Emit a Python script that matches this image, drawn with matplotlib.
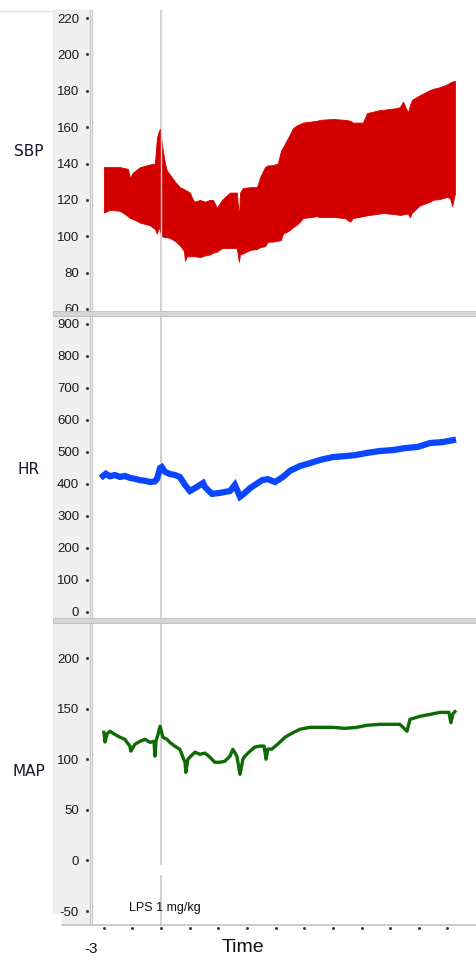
"""Haemodynamic recording after LPS: SBP, HR and MAP stacked traces."""

import matplotlib

matplotlib.use("Agg")
import matplotlib.pyplot as plt
import matplotlib.transforms as mtransforms
from matplotlib.lines import Line2D
from matplotlib.patches import Rectangle


# time in hours relative to the LPS injection (0)
sbp_time = [-1.99, -1.78, -1.43, -1.15, -1.08, -0.98, -0.73, -0.38, -0.21, -0.14,
            -0.07, -0.03, 0.03, 0.14, 0.21, 0.31, 0.49, 0.66, 0.80, 0.84,
            0.91, 1.01, 1.12, 1.19, 1.36, 1.54, 1.71, 1.82, 1.95, 2.13,
            2.41, 2.65, 2.72, 2.76, 2.86, 3.11, 3.35, 3.46, 3.63, 3.73,
            3.87, 4.08, 4.19, 4.26, 4.40, 4.50, 4.61, 4.75, 4.85, 4.96,
            5.20, 5.45, 5.55, 6.00, 6.42, 6.60, 6.70, 7.05, 7.19, 7.64,
            7.75, 8.24, 8.34, 8.45, 8.62, 8.69, 8.76, 9.04, 9.39, 9.49,
            9.74, 9.98, 10.09, 10.16, 10.26]
sbp_high = [138, 138, 138, 137, 132, 135, 138, 139.5, 140, 154,
            158, 159, 151, 140, 136, 134, 130, 127, 126, 125.5,
            125, 124, 120, 119, 120, 119, 120, 120, 115.5, 120,
            124, 124, 110, 124, 126.5, 127, 127, 132.5, 138, 139,
            139, 140, 147, 149, 153, 156, 159.5, 161, 161.7, 162.5,
            163, 163.5, 164, 164.5, 164, 163.5, 162.5, 162.5, 167.7, 169.4,
            169.5, 170.5, 171, 174, 168, 172, 175, 177.6, 180.4, 181,
            182, 183.5, 184.5, 185, 185.4]
sbp_low = [113, 114.5, 114, 111, 110, 109.5, 107.5, 106, 104, 101.5,
           105, 103, 100, 99.5, 99.5, 99, 97.5, 95, 92, 86.5,
           89, 89, 89, 89, 88.5, 89.5, 90, 91, 91.5, 93.5,
           93.5, 93.5, 86, 90, 90.5, 92.5, 93, 94, 94.5, 97,
           97, 97.5, 98, 101.5, 102.5, 103.5, 105, 106.5, 108, 110,
           110.5, 111, 110.5, 110.6, 110, 108, 110, 111, 111.5, 112.5,
           112.8, 112, 111.7, 112, 112.5, 110.5, 113, 117, 119, 120,
           120.5, 121.6, 121, 116.5, 123.6]

hr_time = [-2.02, -1.92, -1.78, -1.61, -1.43, -1.26, -1.08, -0.91, -0.73, -0.56,
           -0.38, -0.21, -0.14, -0.03, 0.03, 0.14, 0.31, 0.49, 0.66, 0.84,
           1.01, 1.19, 1.47, 1.54, 1.78, 2.06, 2.41, 2.58, 2.76, 2.93,
           3.11, 3.28, 3.53, 3.73, 3.98, 4.26, 4.50, 4.85, 5.20, 5.55,
           6.00, 6.42, 6.77, 7.19, 7.64, 8.10, 8.52, 8.97, 9.39, 9.84,
           10.19]
hr_values = [425, 432, 424, 428, 422, 425, 419, 416, 412, 410,
             406, 408, 415, 450, 453, 438, 431, 428, 422, 397,
             378, 387, 403, 390, 369, 372, 378, 397, 360, 372,
             387, 397, 412, 415, 406, 422, 441, 456, 465, 475,
             484, 487, 490, 497, 503, 506, 512, 516, 528, 531,
             537]

map_time = [-1.99, -1.95, -1.88, -1.78, -1.61, -1.43, -1.26, -1.08, -1.05, -0.91,
            -0.73, -0.56, -0.38, -0.24, -0.21, -0.17, -0.10, -0.03, 0.07, 0.21,
            0.31, 0.49, 0.66, 0.84, 0.87, 0.94, 1.01, 1.19, 1.36, 1.54,
            1.71, 1.88, 2.06, 2.23, 2.41, 2.51, 2.65, 2.76, 2.86, 2.93,
            3.11, 3.28, 3.46, 3.60, 3.67, 3.73, 3.87, 4.08, 4.33, 4.57,
            4.85, 5.20, 5.55, 6.00, 6.42, 6.84, 7.19, 7.64, 7.99, 8.34,
            8.59, 8.69, 9.04, 9.39, 9.74, 10.05, 10.12, 10.19, 10.26]
map_values = [126.6, 117, 125, 127.6, 124.6, 121.7, 119.7, 112.8, 108, 114.7,
              117.7, 119.7, 116.7, 117.7, 103, 118, 124.6, 132.5, 121.7, 119.7,
              116.7, 112.8, 109.8, 97, 87, 100, 102, 107, 104.9, 106,
              102, 97, 97, 98, 103, 109.8, 103, 85, 100, 103,
              108, 112, 113, 113, 100, 110, 110, 115, 121.7, 125.6,
              129.6, 131.5, 131.5, 131.5, 130.5, 131.5, 133.5, 134.5, 134.5, 134.5,
              127.6, 139.4, 142.4, 144.3, 146.3, 146.3, 136, 145, 147]

sbp_ticks = [60, 80, 100, 120, 140, 160, 180, 200, 220]
hr_ticks = [0, 100, 200, 300, 400, 500, 600, 700, 800, 900]
map_ticks = [-50, 0, 50, 100, 150, 200]
time_ticks = [-2, -1, 0, 1, 2, 3, 4, 5, 6, 7, 8, 9, 10]

W, H = 477, 960
XLIM = (-2.37, 11.03)
LINE_GREY = "#c8c8c8"
BAND_GREY = "#efefef"


def fx(px):
    return px / W


def fy(py):
    return 1 - py / H


def style_panel(fig, ax, ticks, ylim, label, label_y):
    ax.set_xlim(*XLIM)
    ax.set_ylim(*ylim)
    for s in ax.spines.values():
        s.set_visible(False)
    ax.set_xticks([])
    ax.set_yticks(ticks)
    ax.set_yticklabels([str(t) for t in ticks], fontfamily="Liberation Sans",
                       fontsize=9.5, color="#1a1a1a")
    ax.tick_params(axis="y", length=0, pad=10)
    dots = mtransforms.offset_copy(ax.get_yaxis_transform(), fig=fig, x=-6, y=0, units="dots")
    ax.plot([0] * len(ticks), ticks, ls="none", marker="s", ms=1.0, color="#333333",
            transform=dots, clip_on=False)
    ax.axvline(0, color=LINE_GREY, lw=1.2, zorder=1)
    fig.text(fx(29), fy(label_y), label, ha="center", va="center", fontsize=11,
             fontfamily="DejaVu Sans", color="#15152e")


fig = plt.figure(figsize=(W / 100, H / 100), dpi=100)

# grey label strip on the left, double axis rule, faint top rule
fig.patches.append(Rectangle((fx(53), fy(913)), fx(37), fy(10) - fy(913),
                             transform=fig.transFigure, color=BAND_GREY, zorder=-2))
fig.patches.append(Rectangle((fx(62), fy(925)), fx(28), fy(913) - fy(925),
                             transform=fig.transFigure, color=BAND_GREY, zorder=-2))
for px in (90.5, 92.5):
    fig.lines.append(Line2D([fx(px), fx(px)], [fy(925), fy(10)], transform=fig.transFigure,
                            color=LINE_GREY, lw=0.9, zorder=-1))
fig.lines.append(Line2D([0, fx(53)], [fy(11), fy(11)], transform=fig.transFigure,
                        color="#e4e4e4", lw=1, zorder=-1))

ax_sbp = fig.add_axes([fx(93), fy(311), fx(W - 93), fy(10) - fy(311)])
ax_hr = fig.add_axes([fx(93), fy(618), fx(W - 93), fy(316) - fy(618)])
ax_map = fig.add_axes([fx(93), fy(925), fx(W - 93), fy(623) - fy(925)])
for ax in (ax_sbp, ax_hr, ax_map):
    ax.patch.set_alpha(0)

style_panel(fig, ax_sbp, sbp_ticks, (58.9, 224.4), "SBP", 152)
ax_sbp.fill_between(sbp_time, sbp_low, sbp_high, color="#d40000", lw=0.6,
                    edgecolor="#d40000", zorder=2)
ax_sbp.axvline(0, color="#d8d8d8", lw=1.0, zorder=3)

style_panel(fig, ax_hr, hr_ticks, (-19, 925), "HR", 470)
ax_hr.plot(hr_time, hr_values, color="#0a46ff", lw=4.5, zorder=2, solid_joinstyle="miter")

style_panel(fig, ax_map, map_ticks, (-63.8, 234.6), "MAP", 772)
ax_map.lines[-1].remove()
ax_map.axvline(0, ymin=(-3.4 + 63.8) / 298.4, ymax=1, color=LINE_GREY, lw=1.2, zorder=1)
ax_map.axvline(0, ymin=0, ymax=(-15.3 + 63.8) / 298.4, color=LINE_GREY, lw=1.2, zorder=1)
ax_map.plot(map_time, map_values, color="#0e6a04", lw=2.4, zorder=2)
ax_map.text(0.094, 0.056, "LPS 1 mg/kg", transform=ax_map.transAxes, ha="left", va="center",
            fontsize=9, fontfamily="Liberation Sans", color="#111111")

# separators between panels
for top in (311, 618):
    fig.patches.append(Rectangle((fx(53), fy(top + 5)), 1 - fx(53), fy(top) - fy(top + 5),
                                 transform=fig.transFigure, facecolor="#d6d6d6",
                                 edgecolor="#bdbdbd", lw=0.6, zorder=5))

# time axis along the bottom
fig.lines.append(Line2D([fx(62), 1], [fy(924.5), fy(924.5)], transform=fig.transFigure,
                        color=LINE_GREY, lw=1.3))
tick_tr = mtransforms.offset_copy(ax_map.get_xaxis_transform(), fig=fig, x=0, y=-2.5, units="dots")
ax_map.plot(time_ticks, [0] * len(time_ticks), ls="none", marker="s", ms=1.0,
            color="#333333", transform=tick_tr, clip_on=False)
fig.text(fx(91), fy(949), "-3", ha="center", va="center", fontsize=11,
         fontfamily="Liberation Sans", color="#111111")
fig.text(fx(243), fy(948), "Time", ha="center", va="center", fontsize=14,
         fontfamily="Liberation Sans", color="#111111")

fig.savefig("out.png", dpi=100, facecolor="white")
plt.close(fig)
